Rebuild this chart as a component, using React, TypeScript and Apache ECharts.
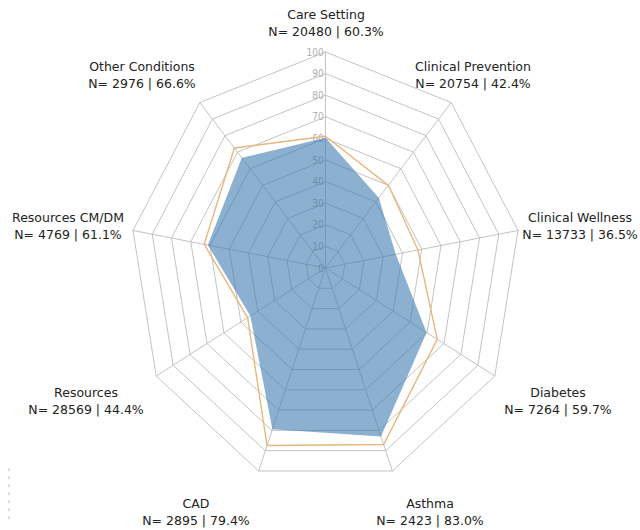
import React, { useEffect, useRef } from "react";
import * as echarts from "echarts";

// Data (clockwise from top, as in the picture)
const categories = [
  "Care Setting",
  "Clinical Prevention",
  "Clinical Wellness",
  "Diabetes",
  "Asthma",
  "CAD",
  "Resources",
  "Resources CM/DM",
  "Other Conditions",
];
const counts = [20480, 20754, 13733, 7264, 2423, 2895, 28569, 4769, 2976];
const percentValues = [60.3, 42.4, 36.5, 59.7, 83.0, 79.4, 44.4, 61.1, 66.6];
const comparisonValues = [61, 50, 48, 66, 87, 87.5, 46, 63, 72.5];
const axisMax = 100;
const splitCount = 10;

// Layout
const W = 640;
const H = 530;
const PAD = 60; // extra room on each side of the (squeezed) drawing surface
const CX = 325.5; // page coordinates of the radar centre
const CY = 268;
const RADIUS = 216;
const SX = 0.905; // horizontal squeeze of the original drawing
const LCX = CX + PAD; // centre in the chart's own coordinates
// label centres in page coordinates (clockwise order)
const labelPos: [number, number][] = [
  [326, 23],
  [473, 75],
  [580, 226],
  [558, 401],
  [430, 512],
  [196, 512],
  [86, 401],
  [68, 226],
  [142, 75],
];

// ECharts radar runs counter-clockwise: reorder so that the picture's clockwise order appears
const order = categories.map((_, i) => (i === 0 ? 0 : categories.length - i));
const toLocalX = (px: number) => LCX + (px - CX) / SX;

export default function App() {
  const ref = useRef<HTMLDivElement>(null);
  useEffect(() => {
    if (!ref.current) return;
    const chart = echarts.init(ref.current, undefined, { renderer: "svg" });
    const indicator = order.map((k, i) => ({
      name: categories[k],
      max: axisMax,
      min: 0,
      axisLabel:
        i === 0
          ? {
              show: true,
              color: "#b0b0b0",
              fontSize: 10,
              fontFamily: "DejaVu Sans",
              margin: 2,
              showMinLabel: true,
              showMaxLabel: true,
            }
          : { show: false },
    }));
    const graphics: any[] = categories.map((c, k) => {
      const [px, py] = labelPos[k];
      return {
        type: "text",
        x: toLocalX(px),
        y: py,
        scaleX: 1 / SX,
        silent: true,
        style: {
          text: `${c}\nN= ${counts[k]} | ${percentValues[k].toFixed(1)}%`,
          fill: "#222",
          fontSize: 12.5,
          fontFamily: "DejaVu Sans",
          lineHeight: 18,
          textAlign: "center",
          textVerticalAlign: "middle",
        },
      };
    });
    graphics.push({
      type: "line",
      silent: true,
      shape: { x1: toLocalX(9), y1: 468, x2: toLocalX(9), y2: 521 },
      style: { stroke: "#bbb", lineWidth: 1, lineDash: [3, 5] },
    });
    chart.setOption({
      animation: false,
      radar: {
        center: [LCX, CY],
        radius: RADIUS,
        startAngle: 90,
        splitNumber: splitCount,
        shape: "polygon",
        axisName: { show: false },
        axisLine: { lineStyle: { color: "#c0c0c0", width: 1 } },
        splitLine: { lineStyle: { color: "#c0c0c0", width: 1 } },
        splitArea: { show: false },
        axisTick: { show: false },
        axisLabel: { show: false },
        indicator,
      },
      graphic: graphics,
      series: [
        {
          type: "radar",
          symbol: "none",
          silent: true,
          data: [
            {
              value: order.map((k) => percentValues[k]),
              lineStyle: { width: 0, color: "rgba(70,130,180,0.6)" },
              areaStyle: { color: "rgba(64,124,176,0.6)", opacity: 1 },
              itemStyle: { color: "rgba(70,130,180,0.6)" },
            },
            {
              value: order.map((k) => comparisonValues[k]),
              lineStyle: { width: 1.5, color: "#e8b67a" },
              itemStyle: { color: "#e8b67a" },
            },
          ],
        },
      ],
    });
    return () => chart.dispose();
  }, []);
  return (
    <div style={{ position: "fixed", left: 0, top: 0, width: W, height: H, overflow: "hidden", background: "#fff" }}>
      <div
        ref={ref}
        style={{
          position: "absolute",
          left: -PAD,
          top: 0,
          width: W + 2 * PAD,
          height: H,
          transform: `scaleX(${SX})`,
          transformOrigin: `${LCX}px ${CY}px`,
        }}
      />
    </div>
  );
}
